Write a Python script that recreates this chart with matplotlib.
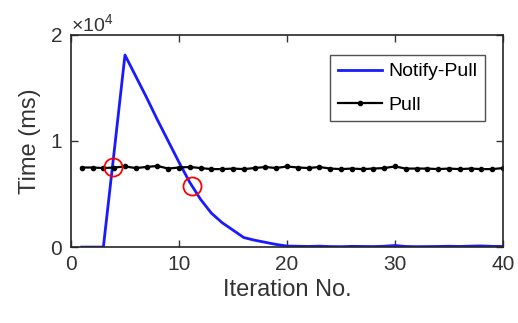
import numpy as np
import matplotlib
matplotlib.use('Agg')
import matplotlib.pyplot as plt
from matplotlib.ticker import ScalarFormatter

iterations = list(range(1, 41))

notify_pull = [0, 0, 0, 9000, 18100, 16100, 14100, 12000, 10000, 8000,
               6100, 4500, 3200, 2300, 1600, 900, 650, 450, 250, 100,
               80, 60, 90, 50, 40, 70, 60, 50, 80, 150,
               60, 40, 50, 60, 80, 60, 90, 110, 70, 60]

pull = [7500, 7500, 7450, 7500, 7600, 7450, 7550, 7650, 7400, 7500,
        7550, 7450, 7350, 7350, 7400, 7350, 7450, 7550, 7450, 7600,
        7500, 7450, 7550, 7400, 7350, 7400, 7350, 7400, 7450, 7600,
        7400, 7400, 7400, 7350, 7400, 7350, 7400, 7350, 7350, 7450]

# crossing points highlighted with red circles
cross_x = [3.85, 11.2]
cross_y = [7550, 5800]

plt.rcParams['font.family'] = ['Liberation Sans', 'DejaVu Sans']
plt.rcParams['mathtext.fontset'] = 'custom'
plt.rcParams['mathtext.rm'] = 'Liberation Sans'

fig = plt.figure(figsize=(5.18, 3.23), dpi=100)
ax = fig.add_axes([0.137, 0.235, 0.834, 0.657])

ax.plot(iterations, notify_pull, color='#1a1aff', linewidth=2.0, label='Notify-Pull')
ax.plot(iterations, pull, color='black', linewidth=1.6, marker='o', markersize=3.0,
        label='Pull')
ax.plot(cross_x, cross_y, linestyle='none', marker='o', markersize=13,
        markerfacecolor='none', markeredgecolor='red', markeredgewidth=1.3)

ax.set_xlim(0, 40)
ax.set_ylim(0, 20000)
ax.set_xticks([0, 10, 20, 30, 40])
ax.set_yticks([0, 10000, 20000])

fmt = ScalarFormatter(useMathText=True)
fmt.set_powerlimits((0, 0))
ax.yaxis.set_major_formatter(fmt)
ax.yaxis.get_offset_text().set_fontsize(14)
ax.yaxis.get_offset_text().set_color('#333333')

ax.tick_params(direction='in', top=True, right=True, length=5, width=1,
               labelsize=15, colors='#333333', pad=6)
for s in ax.spines.values():
    s.set_color('#262626')
    s.set_linewidth(1.2)

ax.set_xlabel('Iteration No.', fontsize=17, color='#333333', labelpad=3)
ax.set_ylabel('Time (ms)', fontsize=17, color='#333333', labelpad=6)

leg = ax.legend(loc='upper right', bbox_to_anchor=(0.958, 0.905), fontsize=14,
                frameon=True, fancybox=False, edgecolor='#262626',
                handlelength=2.3, handletextpad=0.3, borderpad=0.4,
                labelspacing=0.8, borderaxespad=0)
leg.get_frame().set_linewidth(1.0)

fig.savefig('out.png', dpi=100)
